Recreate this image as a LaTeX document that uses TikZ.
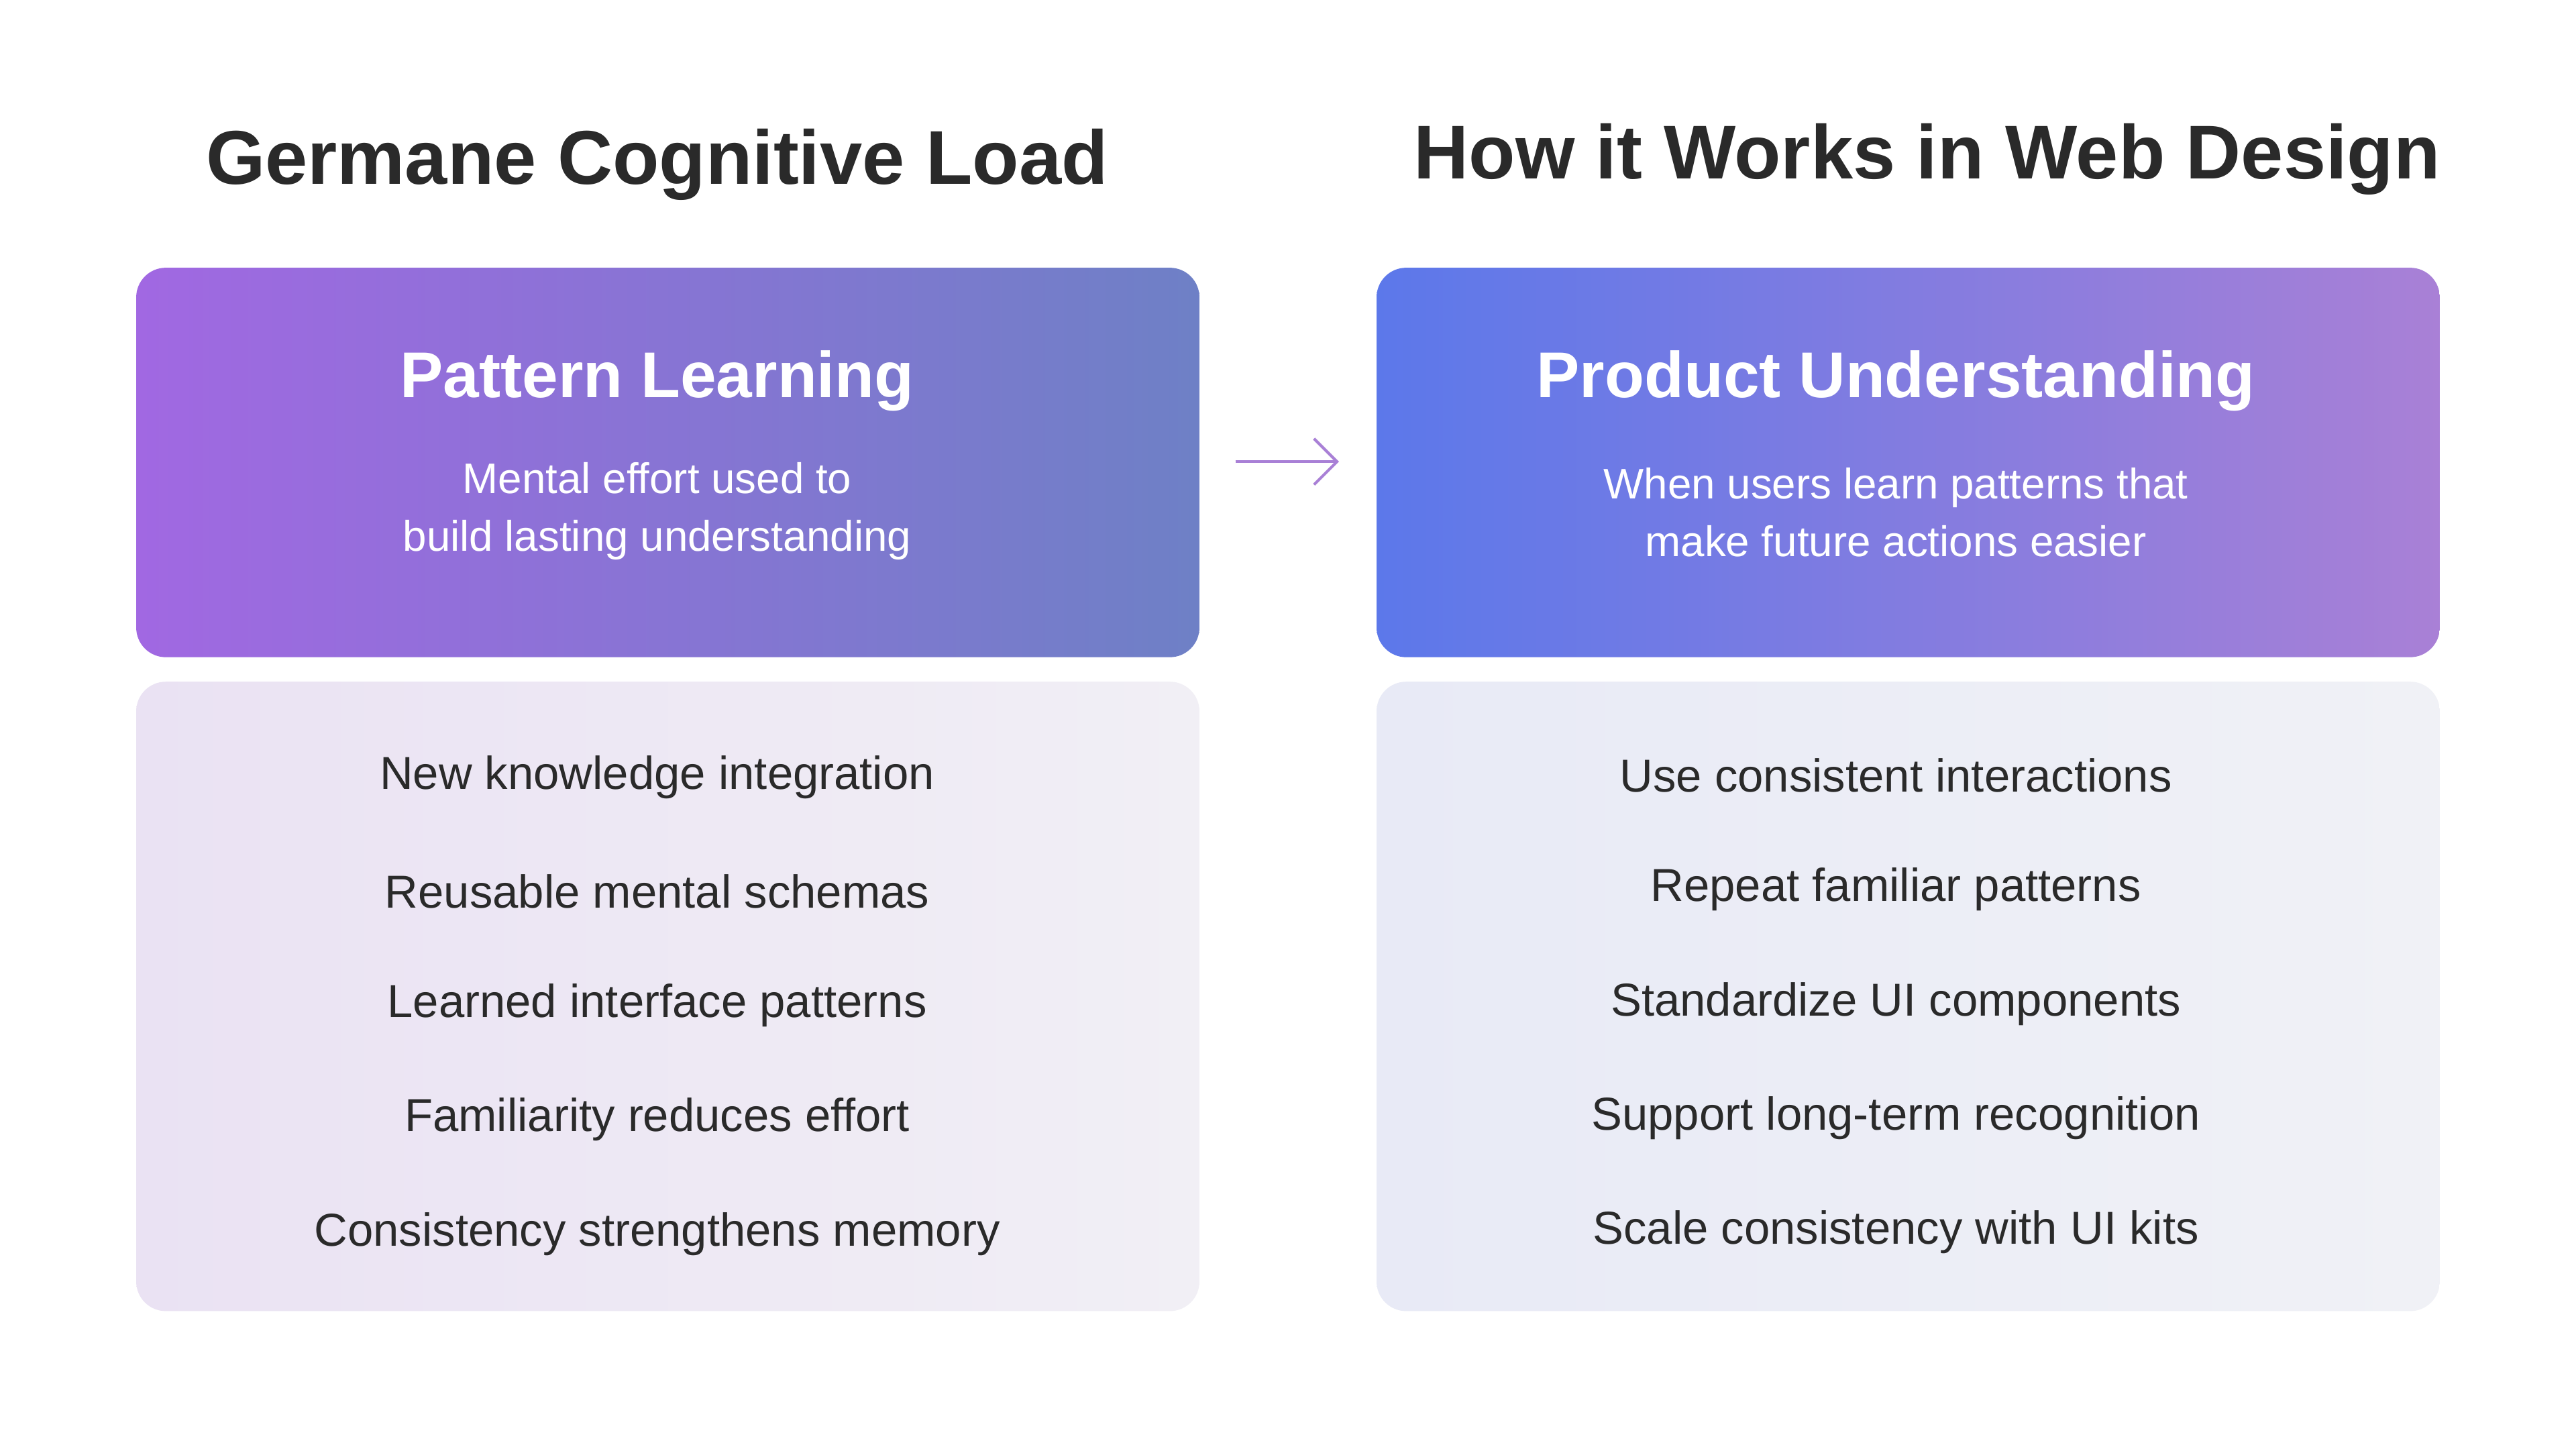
\documentclass[tikz,border=0pt]{standalone}
\usepackage{fontspec}
\setmainfont{Liberation Sans}
\usetikzlibrary{positioning,arrows.meta}
\definecolor{purpleA}{HTML}{A168E2}
\definecolor{slateA}{HTML}{6E80C6}
\definecolor{blueB}{HTML}{5C78EA}
\definecolor{purpleB}{HTML}{A980D6}
\definecolor{lavA}{HTML}{EAE2F3}
\definecolor{lavB}{HTML}{F1EFF5}
\definecolor{greyB}{HTML}{E8EAF6}
\definecolor{greyC}{HTML}{F0F1F6}
\definecolor{ink}{HTML}{2A2A2A}
\tikzset{
  title/.style={text=ink,font=\fontsize{33}{40}\selectfont\bfseries},
  headbox/.style={rounded corners=0.45cm,minimum width=16.175cm,minimum height=5.925cm,inner sep=0pt},
  listbox/.style={rounded corners=0.45cm,minimum width=16.175cm,minimum height=9.575cm,inner sep=0pt},
  head/.style={text=white,font=\fontsize{28}{34}\selectfont\bfseries},
  sub/.style={text=white,align=center,font=\fontsize{18.5}{25}\selectfont},
  item/.style={text=ink,font=\fontsize{20}{24}\selectfont}
}
\begin{document}
\begin{tikzpicture}[x=0.025cm,y=-0.025cm]
\useasboundingbox (0,0) rectangle (1568,882);
\fill[white] (0,0) rectangle (1568,882);
% titles
\node[title] (ltitle) at (400,100) {Germane Cognitive Load};
\node[title] (rtitle) at (1173,97) {How it Works in Web Design};
% top boxes
\node[headbox,left color=purpleA,right color=slateA] (ltop) at (406.5,281.5) {};
\node[headbox,left color=blueB,right color=purpleB] (rtop) at (1161.5,281.5) {};
\node[head] (lhead) at (400,232) {Pattern Learning};
\node[sub] (lsub) at (400,311) {Mental effort used to\\build lasting understanding};
\node[head] (rhead) at (1154,232) {Product Understanding};
\node[sub] (rsub) at (1154,312) {When users learn patterns that\\make future actions easier};
% arrow
\coordinate (afrom) at (752,281);
\coordinate (ato) at (815,281);
\draw[purpleB,line width=1.2pt,-{Straight Barb[length=0.35cm,width=0.7cm]}] (afrom) -- (ato);
% lower boxes
\node[listbox,left color=lavA,right color=lavB] (lbot) at (406.5,606.5) {};
\node[listbox,left color=greyB,right color=greyC] (rbot) at (1161.5,606.5) {};
\foreach \t [count=\i] in {New knowledge integration,Reusable mental schemas,Learned interface patterns,Familiarity reduces effort,Consistency strengthens memory}
  \node[item] (litem\i) at (400,{473+69.5*(\i-1)}) {\t};
\foreach \t [count=\i] in {Use consistent interactions,Repeat familiar patterns,Standardize UI components,Support long-term recognition,Scale consistency with UI kits}
  \node[item] (ritem\i) at (1154,{472+69.5*(\i-1)}) {\t};
\end{tikzpicture}
\end{document}
